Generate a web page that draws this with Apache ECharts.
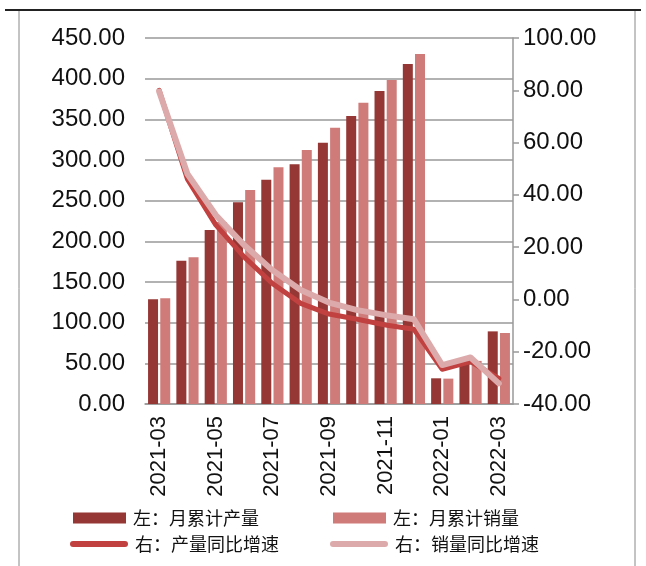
<!DOCTYPE html>
<html>
<head>
<meta charset="utf-8">
<script src="https://cdn.jsdelivr.net/npm/echarts@6/dist/echarts.min.js"></script>
<style>
  html, body { margin: 0; padding: 0; background: #fff; }
  #chart { width: 646px; height: 566px; }
</style>
</head>
<body>
<div id="chart"></div>
<script>
// Monthly categories
const months = ['2021-03','2021-04','2021-05','2021-06','2021-07','2021-08','2021-09',
                '2021-10','2021-11','2021-12','2022-01','2022-02','2022-03'];
// Cumulative monthly output and sales (left axis)
const outputCum = [128.7, 176.2, 214.0, 248.0, 275.8, 294.7, 321.3, 354.1, 384.8, 418.0, 31.6, 50.5, 89.3];
const salesCum  = [129.9, 180.3, 223.8, 263.0, 291.0, 312.3, 339.7, 370.5, 398.4, 430.3, 31.2, 53.0, 87.3];
// Year-on-year growth, % (right axis)
const outputYoy = [80.0, 46.0, 28.5, 16.3, 6.1, -1.5, -5.6, -7.6, -9.8, -11.4, -26.7, -23.8, -30.2];
const salesYoy  = [79.5, 48.0, 32.3, 20.8, 11.2, 3.6, -1.2, -4.1, -6.0, -7.6, -25.1, -22.2, -32.1];

const names = ['左：月累计产量', '左：月累计销量', '右：产量同比增速', '右：销量同比增速'];
const C_BAR1 = '#953735', C_BAR2 = '#cf7b79', C_LINE1 = '#c0413f', C_LINE2 = '#dcaaaa';
const FONT = 'Liberation Sans';
const capsule = 'path://M3,0 L55,0 A3,3 0 0 1 55,6 L3,6 A3,3 0 0 1 3,0 Z';

function legendAt(name, left, top, lineIcon) {
  return {
    data: [name], left: left, top: top, orient: 'horizontal',
    itemWidth: lineIcon ? 58 : 53, itemHeight: lineIcon ? 6 : 11, itemGap: 0,
    icon: lineIcon ? capsule : 'rect',
    textStyle: { fontFamily: 'Noto Sans CJK SC', fontSize: 18, color: '#111', padding: [0, 0, 0, 2] },
    selectedMode: false, padding: 0
  };
}

const chart = echarts.init(document.getElementById('chart'), null, { renderer: 'canvas' });
chart.setOption({
  animation: false,
  backgroundColor: '#fff',
  textStyle: { fontFamily: FONT },
  graphic: [
    { type: 'line', shape: { x1: 5, y1: 10, x2: 641, y2: 10 }, style: { stroke: '#222', lineWidth: 2 } },
    { type: 'line', shape: { x1: 19, y1: 11, x2: 19, y2: 566 }, style: { stroke: '#888', lineWidth: 1 } },
    { type: 'line', shape: { x1: 635, y1: 11, x2: 635, y2: 566 }, style: { stroke: '#888', lineWidth: 1 } }
  ],
  legend: [
    legendAt(names[0], 73, 509, false),
    legendAt(names[1], 333, 509, false),
    legendAt(names[2], 70, 535, true),
    legendAt(names[3], 330, 535, true)
  ],
  grid: { left: 145, right: 133, top: 38, bottom: 162 },
  xAxis: {
    type: 'category', data: months,
    axisLine: { lineStyle: { color: '#999', width: 1.5 } },
    axisTick: { show: false },
    axisLabel: { interval: 1, rotate: 90, margin: 12, fontSize: 22, color: '#111', fontFamily: FONT }
  },
  yAxis: [
    {
      type: 'value', min: 0, max: 450, interval: 50,
      axisLine: { show: false }, axisTick: { show: false },
      splitLine: { lineStyle: { color: '#999', width: 1.5 } },
      axisLabel: { formatter: v => v.toFixed(2), fontSize: 24, color: '#111', margin: 20, fontFamily: FONT }
    },
    {
      type: 'value', min: -40, max: 100, interval: 20,
      axisLine: { show: true, lineStyle: { color: '#999', width: 1.5 } },
      axisTick: { show: true, inside: false, length: 6, lineStyle: { color: '#999', width: 1.5 } },
      splitLine: { show: false },
      axisLabel: { formatter: v => v.toFixed(2), fontSize: 24, color: '#111', margin: 10, fontFamily: FONT }
    }
  ],
  series: [
    { name: names[0], type: 'bar', data: outputCum, yAxisIndex: 0, barWidth: 10, barGap: '22%',
      itemStyle: { color: C_BAR1 } },
    { name: names[1], type: 'bar', data: salesCum, yAxisIndex: 0, barWidth: 10,
      itemStyle: { color: C_BAR2 } },
    { name: names[2], type: 'line', data: outputYoy, yAxisIndex: 1, symbol: 'none',
      lineStyle: { color: C_LINE1, width: 5, cap: 'round', join: 'round' }, itemStyle: { color: C_LINE1 }, z: 3 },
    { name: names[3], type: 'line', data: salesYoy, yAxisIndex: 1, symbol: 'none',
      lineStyle: { color: C_LINE2, width: 6, cap: 'round', join: 'round' }, itemStyle: { color: C_LINE2 }, z: 4 }
  ]
});
</script>
</body>
</html>
